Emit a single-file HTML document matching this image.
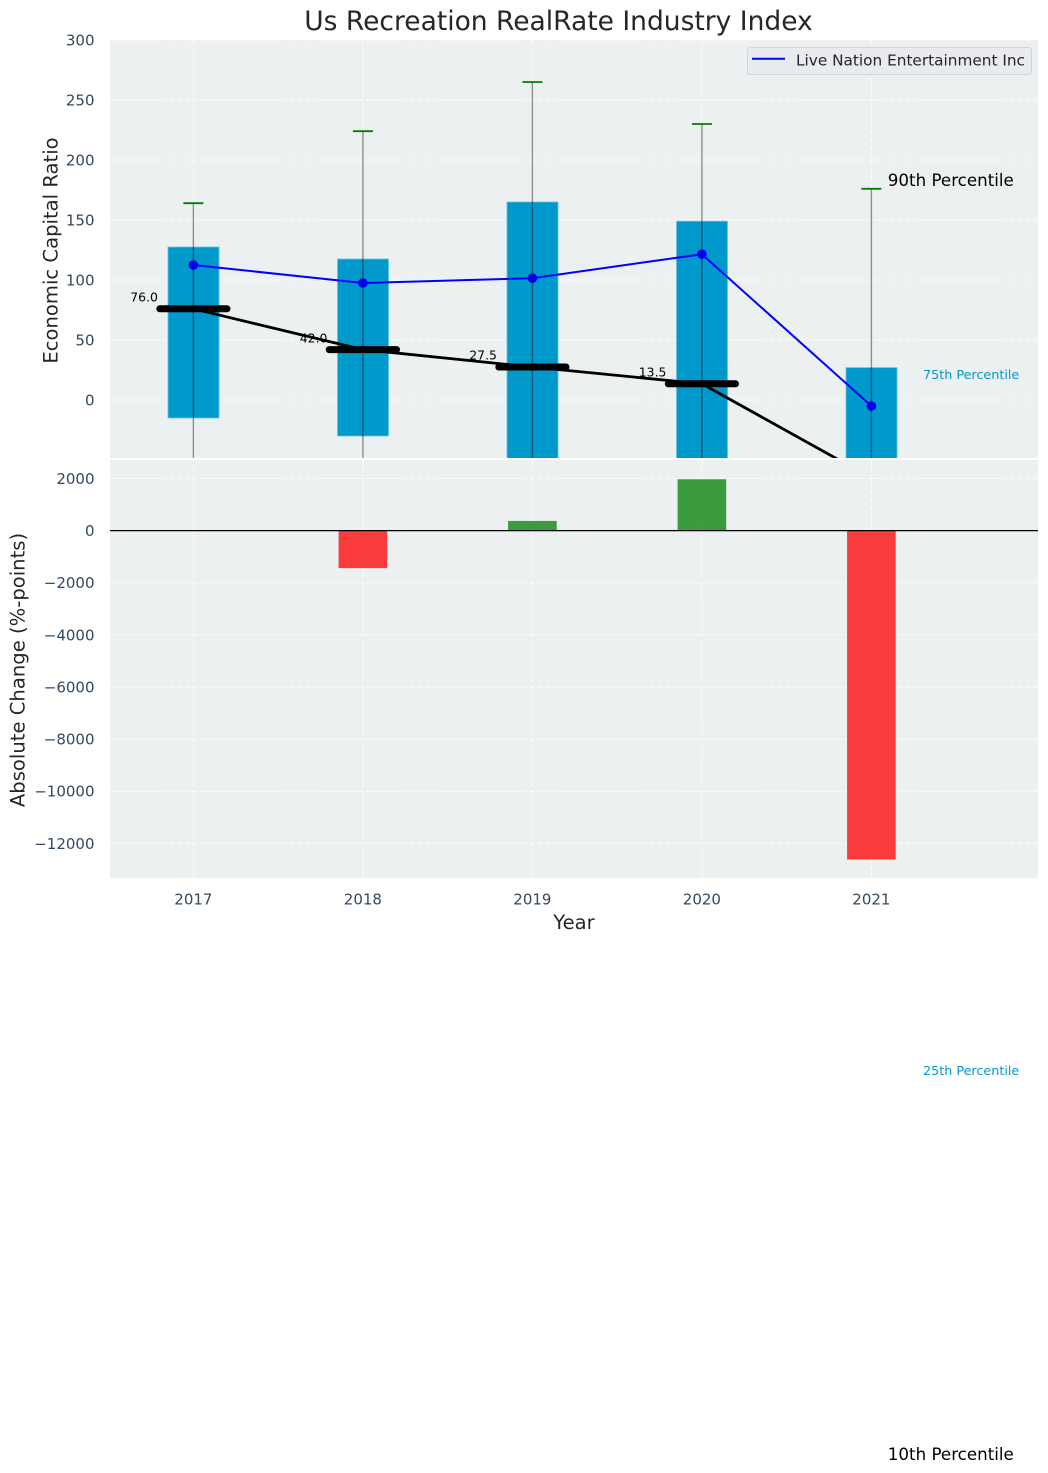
<!DOCTYPE html>
<html lang="en">
<head>
<meta charset="utf-8">
<title>Us Recreation RealRate Industry Index</title>
<style>
html,body{margin:0;padding:0;background:#fff;width:1048px;height:1473px;overflow:hidden}
svg{display:block;font-family:"DejaVu Sans","Liberation Sans",sans-serif}
</style>
</head>
<body>
<svg id="chart" xmlns="http://www.w3.org/2000/svg" width="1048" height="1473" viewBox="0 0 1048 1473">
  <defs>
    <clipPath id="top-clip"><rect x="110" y="40" width="928" height="418"></rect></clipPath>
    <clipPath id="bottom-clip"><rect x="110" y="460" width="928" height="418"></rect></clipPath>
  </defs>
  <rect x="110" y="40" width="928" height="418" fill="#ecf0f1"></rect>
  <rect x="110" y="460" width="928" height="418" fill="#ecf0f1"></rect>
  <g id="grid"></g>
  <g id="top-marks" clip-path="url(#top-clip)"></g>
  <g id="bottom-marks" clip-path="url(#bottom-clip)"></g>
  <g id="labels"></g>
  <text x="558.5" y="30" text-anchor="middle" font-size="26.5px" fill="#262626">Us Recreation RealRate Industry Index</text>
  <text transform="translate(57.5,250.5) rotate(-90)" text-anchor="middle" font-size="19.6px" fill="#262626">Economic Capital Ratio</text>
  <text transform="translate(24.5,670) rotate(-90)" text-anchor="middle" font-size="19.6px" fill="#262626">Absolute Change (%-points)</text>
  <text x="574" y="929" text-anchor="middle" font-size="19.6px" fill="#262626">Year</text>
  <g>
    <rect x="747.5" y="47.5" width="284" height="27" rx="3" ry="3" fill="#e9ebf0" stroke="#d3d4d8" stroke-width="1"></rect>
    <line x1="752" y1="58.8" x2="785" y2="58.8" stroke="#0000ff" stroke-width="2"></line>
    <text x="796" y="65.5" font-size="15.3px" fill="#262626">Live Nation Entertainment Inc</text>
  </g>
</svg>
<script>
const years = [2017, 2018, 2019, 2020, 2021];
const p90 = [164, 224, 265, 230, 176];
const p75 = [127.5, 117.5, 165, 149, 27];
const medians = [76.0, 42.0, 27.5, 13.5, -65];
const medianLabels = ["76.0", "42.0", "27.5", "13.5"];
const p25 = [-15, -30, -90, -85, -553];
const p10 = [-90, -110, -170, -200, -886];
const company = [112.5, 97.5, 101.5, 121.5, -5];
const changes = [0, -1440, 370, 1970, -12620];
const topTicks = [0, 50, 100, 150, 200, 250, 300];
const bottomTicks = [2000, 0, -2000, -4000, -6000, -8000, -10000, -12000];

const SVG_NS = "http://www.w3.org/2000/svg";
function x(year) { return 193.4 + (year - 2017) * 169.5; }
function yTop(v) { return 400 - v * 1.2; }
function yBottom(v) { return 530.6 - v * 0.02606; }

function mk(tag, attrs, parent, content) {
  const el = document.createElementNS(SVG_NS, tag);
  for (const k in attrs) el.setAttribute(k, attrs[k]);
  if (content !== undefined) el.textContent = content;
  parent.appendChild(el);
  return el;
}
const grid = document.getElementById("grid");
const topMarks = document.getElementById("top-marks");
const bottomMarks = document.getElementById("bottom-marks");
const labels = document.getElementById("labels");
const dash = "5,2.5";
const tickColor = "#34495e";
const gridOpacity = 0.85;

topTicks.forEach(function (t) {
  const l = mk("line", {x1: 110, x2: 1038, y1: yTop(t), y2: yTop(t), stroke: "#fff", "stroke-opacity": gridOpacity, "stroke-width": 1, "stroke-dasharray": dash}, grid);
  
  
  const s = mk("text", {x: 94.5, y: yTop(t) + 5.5, "text-anchor": "end", "font-size": "15px", fill: tickColor}, labels, String(t));
  
  
});
bottomTicks.forEach(function (t) {
  const l = mk("line", {x1: 110, x2: 1038, y1: yBottom(t), y2: yBottom(t), stroke: "#fff", "stroke-opacity": gridOpacity, "stroke-width": 1, "stroke-dasharray": dash}, grid);
  
  
  const s = mk("text", {x: 94.5, y: yBottom(t) + 5.5, "text-anchor": "end", "font-size": "15px", fill: tickColor}, labels, String(t).replace("-", "\u2212"));
  
  
});
years.forEach(function (yr) {
  const a = mk("line", {x1: x(yr), x2: x(yr), y1: 40, y2: 458, stroke: "#fff", "stroke-opacity": gridOpacity, "stroke-width": 1, "stroke-dasharray": dash}, grid);
  
  
  const b = mk("line", {x1: x(yr), x2: x(yr), y1: 460, y2: 878, stroke: "#fff", "stroke-opacity": gridOpacity, "stroke-width": 1, "stroke-dasharray": dash}, grid);
  
  
  const s = mk("text", {x: x(yr), y: 904.5, "text-anchor": "middle", "font-size": "15px", fill: tickColor}, labels, String(yr));
  
  
});

// percentile boxes
years.forEach(function (yr, i) {
  const b = mk("rect", {x: x(yr) - 25.4, width: 51, y: yTop(p75[i]), height: yTop(p25[i]) - yTop(p75[i]), fill: "#0099cc", stroke: "#66c2e0", "stroke-width": 0.8}, topMarks);
  
  
});
// company line
const bluePts = years.map(function (yr, i) { return x(yr) + "," + yTop(company[i]); }).join(" ");
const blue = mk("polyline", {points: bluePts, fill: "none", stroke: "#0000ff", "stroke-width": 2}, topMarks);


years.forEach(function (yr, i) {
  const c = mk("circle", {cx: x(yr), cy: yTop(company[i]), r: 4.8, fill: "#0000ff"}, topMarks);
  
  
});
// whiskers
years.forEach(function (yr, i) {
  const w = mk("line", {x1: x(yr), x2: x(yr), y1: yTop(p90[i]), y2: yTop(p10[i]), stroke: "#000", "stroke-opacity": 0.42, "stroke-width": 1.4}, topMarks);
  
  
  const cap = mk("line", {x1: x(yr) - 10, x2: x(yr) + 10, y1: yTop(p90[i]), y2: yTop(p90[i]), stroke: "#008000", "stroke-width": 1.8}, topMarks);
  
  
});
// median line
const medPts = years.map(function (yr, i) { return x(yr) + "," + yTop(medians[i]); }).join(" ");
const med = mk("polyline", {points: medPts, fill: "none", stroke: "#000", "stroke-width": 2.8}, topMarks);


years.forEach(function (yr, i) {
  const m = mk("line", {x1: x(yr) - 33.6, x2: x(yr) + 33.6, y1: yTop(medians[i]), y2: yTop(medians[i]), stroke: "#000", "stroke-width": 7, "stroke-linecap": "round"}, topMarks);
  
  
});
medianLabels.forEach(function (txt, i) {
  const s = mk("text", {x: x(years[i]) - 35.5, y: yTop(medians[i]) - 7.3, "text-anchor": "end", "font-size": "12.4px", fill: "#000"}, labels, txt);
  
  
});
// percentile annotations, anchored on the last year's values
const last = years.length - 1;
const lastX = x(years[last]);
const p90Label = mk("text", {x: lastX + 16.4, y: yTop(p90[last]) - 3, "font-size": "16.7px", fill: "#000"}, labels, "90th Percentile");


const p75Label = mk("text", {x: lastX + 51.6, y: yTop(p75[last]) + 11.5, "font-size": "12.75px", fill: "#0099cc"}, labels, "75th Percentile");


const p25Label = mk("text", {x: lastX + 51.6, y: yTop(p25[last]) + 11.5, "font-size": "12.75px", fill: "#0099cc"}, labels, "25th Percentile");


const p10Label = mk("text", {x: lastX + 16.4, y: yTop(p10[last]) - 3, "font-size": "16.7px", fill: "#000"}, labels, "10th Percentile");



// change bars
years.forEach(function (yr, i) {
  const v = changes[i];
  const y0 = yBottom(Math.max(v, 0));
  const y1 = yBottom(Math.min(v, 0));
  const r = mk("rect", {x: x(yr) - 24.3, width: 48.6, y: y0, height: y1 - y0, fill: v >= 0 ? "#008000" : "#ff0000", "fill-opacity": 0.75}, bottomMarks);
  
  
});
const zero = mk("line", {x1: 110, x2: 1038, y1: yBottom(0), y2: yBottom(0), stroke: "#000", "stroke-width": 1.3}, bottomMarks);


</script>
</body>
</html>
